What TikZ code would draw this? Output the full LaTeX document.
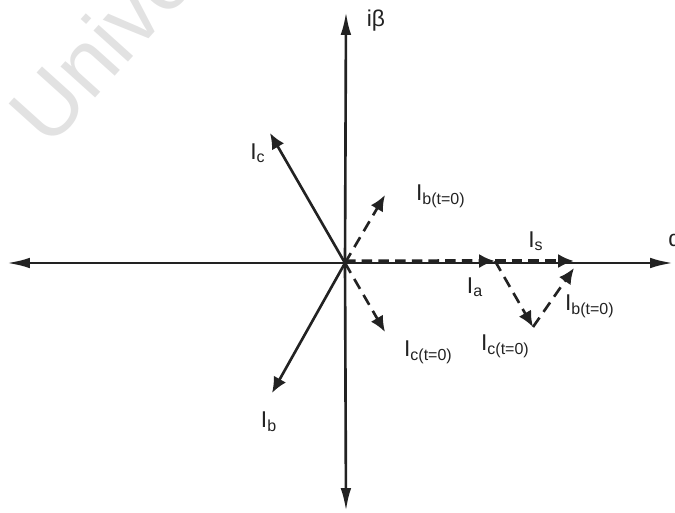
\documentclass[tikz,border=0pt]{standalone}
\usepackage{fontspec}
\setmainfont{Liberation Sans}
\usetikzlibrary{positioning,arrows.meta}
\definecolor{ink}{HTML}{222222}
\definecolor{wmark}{HTML}{E2E2E2}
\tikzset{
  axis/.style   ={draw=ink, line width=1.5pt, -{Latex[length=13pt,width=6pt]}},
  phasor/.style ={draw=ink, line width=1.5pt, -{Latex[length=9pt,width=8pt]}},
  % dashed phasors: the t=0 parts and the sum along the real axis
  dphasor/.style={phasor, dash pattern=on 6.5pt off 4pt},
  onaxis/.style ={dphasor, line width=2.1pt, dash pattern=on 6pt off 3.5pt},
  lbl/.style    ={font=\fontsize{13}{15}\selectfont, text=ink, inner sep=1pt},
}

\begin{document}
\begin{tikzpicture}[x=0.02cm,y=-0.02cm]
\useasboundingbox (0,0) rectangle (675,513);
\node[font=\fontsize{50}{50}\selectfont, text=wmark, rotate=48, inner sep=0pt,
  anchor=base west] (wm) at (49,150) {Unive};
\coordinate (O) at (345,263);
\foreach \n/\x/\y in {up/346/12, dn/346/511, lt/7/263, rt/673/263}
  {\coordinate (\n) at (\x,\y);}
\foreach \n/\x/\y in {Ic/270/133, Ib/272/393, Ibz/385/195, Icz/385/332,
                      Ia/495/261, Is/574/261, Icm/533/327, Ibm/574/268}
  {\coordinate (\n) at (\x,\y);}
% axes
\draw[axis] (O) -- (up);
\draw[axis] (O) -- (dn);
\draw[axis] (O) -- (lt);
\draw[axis] (O) -- (rt);
% phase currents
\draw[phasor] (O) -- (Ic);
\draw[phasor] (O) -- (Ib);
\draw[dphasor] (O) -- (Ibz);
\draw[dphasor] (O) -- (Icz);
\draw[onaxis] ([yshift=1pt]O) -- (Ia);
\draw[onaxis] (Ia) -- (Is);
\draw[dphasor] (Ia) -- (Icm);
\draw[dphasor] (Icm) -- (Ibm);
% labels
\node[lbl] (lbeta) at (376,21) {iβ};
\node[lbl] (lalpha) at (675,240) {α};
\node[lbl] (lIc) at (258,153) {I\textsubscript{c}};
\node[lbl] (lIb) at (269,422) {I\textsubscript{b}};
\node[lbl, anchor=west] (lIbz) at (414,196) {I\textsubscript{b(t=0)}};
\node[lbl, anchor=west] (lIcz) at (402,352) {I\textsubscript{c(t=0)}};
\node[lbl] (lIs) at (536,241) {I\textsubscript{s}};
\node[lbl] (lIa) at (475,287) {I\textsubscript{a}};
\node[lbl, anchor=west] (lIbm) at (563,306) {I\textsubscript{b(t=0)}};
\node[lbl, anchor=west] (lIcm) at (479,346) {I\textsubscript{c(t=0)}};
\end{tikzpicture}
\end{document}
